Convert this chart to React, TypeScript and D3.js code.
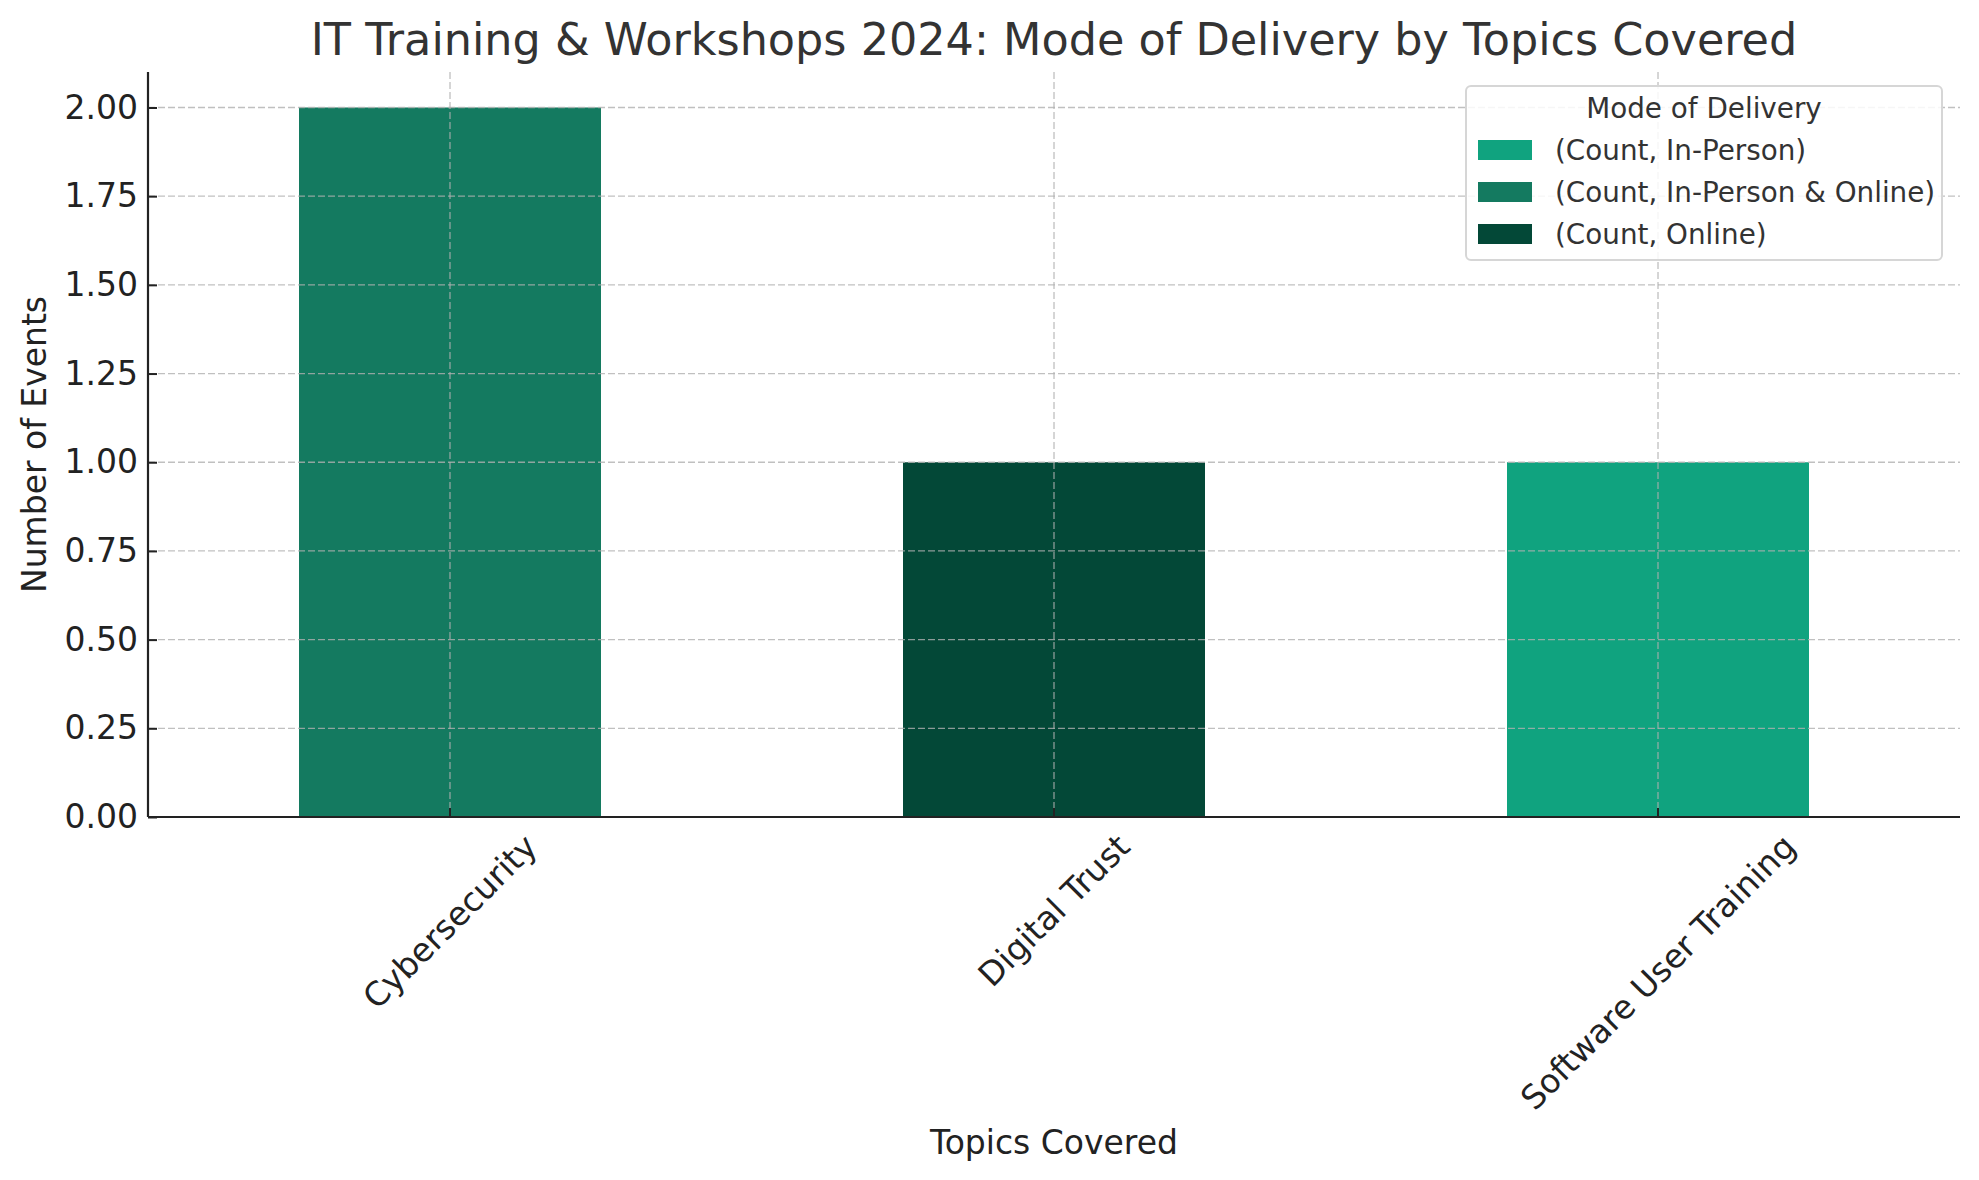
import React, { useEffect, useRef } from "react";
import * as d3 from "d3";

const topics = ["Cybersecurity", "Digital Trust", "Software User Training"];
const modes = ["(Count, In-Person)", "(Count, In-Person & Online)", "(Count, Online)"];
const inPerson = [0, 0, 1];
const inPersonOnline = [2, 0, 0];
const online = [0, 1, 0];
const yTicks = [0, 0.25, 0.5, 0.75, 1, 1.25, 1.5, 1.75, 2];
const colors = ["#10A37F", "#147A60", "#034837"];

const W = 1979;
const H = 1180;
const margin = { top: 72, right: 19, bottom: 363, left: 148 };
const FONT = "DejaVu Sans, sans-serif";

const App: React.FC = () => {
  const svgRef = useRef<SVGSVGElement | null>(null);

  useEffect(() => {
    document.body.style.margin = "0";
    if (!svgRef.current) return;
    const svg = d3.select(svgRef.current);
    svg.selectAll("*").remove();

    const rows = topics.map((t, i) => ({
      topic: t,
      [modes[0]]: inPerson[i],
      [modes[1]]: inPersonOnline[i],
      [modes[2]]: online[i],
    }));
    const series = d3.stack<any>().keys(modes)(rows);

    const innerW = W - margin.left - margin.right;
    const innerH = H - margin.top - margin.bottom;

    const x = d3.scaleBand().domain(topics).range([0, innerW]).paddingInner(0.5).paddingOuter(0.25);
    const y = d3.scaleLinear().domain([0, 2.1]).range([innerH, 0]);
    const color = d3.scaleOrdinal<string>().domain(modes).range(colors);

    const g = svg.append("g").attr("transform", `translate(${margin.left},${margin.top})`);

    // bars
    g.selectAll(".layer")
      .data(series)
      .enter()
      .append("g")
      .attr("fill", (d) => color(d.key))
      .selectAll("rect")
      .data((d) => d)
      .enter()
      .append("rect")
      .attr("x", (d: any) => x(d.data.topic) ?? 0)
      .attr("width", x.bandwidth())
      .attr("y", (d) => y(d[1]))
      .attr("height", (d) => y(d[0]) - y(d[1]));

    // grid (drawn above bars)
    const grid = g.append("g").attr("stroke", "#b0b0b0").attr("stroke-opacity", 0.8).attr("stroke-width", 1.3).attr("stroke-dasharray", "7,3");
    grid.selectAll(".hg")
      .data(yTicks)
      .enter()
      .append("line")
      .attr("x1", 0)
      .attr("x2", innerW)
      .attr("y1", (d) => y(d))
      .attr("y2", (d) => y(d));
    grid.selectAll(".vg")
      .data(topics)
      .enter()
      .append("line")
      .attr("x1", (d) => (x(d) ?? 0) + x.bandwidth() / 2)
      .attr("x2", (d) => (x(d) ?? 0) + x.bandwidth() / 2)
      .attr("y1", 0)
      .attr("y2", innerH);

    // y axis
    const yAxis = g.append("g").call(
      d3.axisLeft(y).tickValues(yTicks).tickFormat(d3.format(".2f")).tickSizeInner(-9).tickSizeOuter(0).tickPadding(10)
    );
    yAxis.select(".domain").attr("stroke", "#222").attr("stroke-width", 2.2).attr("d", `M0,${innerH}V0`);
    yAxis.selectAll(".tick line").attr("stroke", "#222").attr("stroke-width", 2);
    yAxis.selectAll(".tick text").attr("font-family", FONT).attr("font-size", 33).attr("fill", "#222");

    // x axis
    const xAxis = g.append("g").attr("transform", `translate(0,${innerH})`).call(
      d3.axisBottom(x).tickSizeInner(-9).tickSizeOuter(0).tickPadding(0)
    );
    xAxis.select(".domain").attr("stroke", "#222").attr("stroke-width", 2.2).attr("d", `M0,0H${innerW}`);
    xAxis.selectAll(".tick line").attr("stroke", "#222").attr("stroke-width", 2);
    xAxis.selectAll<SVGTextElement, string>(".tick text")
      .attr("font-family", FONT)
      .attr("font-size", 33)
      .attr("fill", "#222")
      .attr("dy", null)
      .attr("text-anchor", "middle")
      .attr("dominant-baseline", "central")
      .each(function () {
        const w = this.getComputedTextLength();
        const h = 33;
        const bh = (w + h) * Math.SQRT1_2;
        d3.select(this).attr("y", null).attr("transform", `translate(0,${12 + bh / 2}) rotate(-45)`);
      });

    // axis labels
    svg.append("text")
      .attr("x", margin.left + innerW / 2)
      .attr("y", 1142)
      .attr("text-anchor", "middle")
      .attr("dominant-baseline", "central")
      .attr("font-family", FONT)
      .attr("font-size", 33)
      .attr("fill", "#222")
      .text("Topics Covered");
    svg.append("text")
      .attr("transform", `translate(34,${margin.top + innerH / 2}) rotate(-90)`)
      .attr("text-anchor", "middle")
      .attr("dominant-baseline", "central")
      .attr("font-family", FONT)
      .attr("font-size", 33)
      .attr("fill", "#222")
      .text("Number of Events");

    // title
    svg.append("text")
      .attr("x", margin.left + innerW / 2)
      .attr("y", 39)
      .attr("text-anchor", "middle")
      .attr("dominant-baseline", "central")
      .attr("font-family", FONT)
      .attr("font-size", 44.5)
      .attr("fill", "#333")
      .text("IT Training & Workshops 2024: Mode of Delivery by Topics Covered");

    // legend
    const lg = svg.append("g").attr("transform", "translate(1466,86)");
    lg.append("rect")
      .attr("width", 476)
      .attr("height", 174)
      .attr("rx", 5)
      .attr("fill", "#fff")
      .attr("fill-opacity", 0.85)
      .attr("stroke", "#d6d6d6")
      .attr("stroke-width", 2);
    lg.append("text")
      .attr("x", 238)
      .attr("y", 22)
      .attr("text-anchor", "middle")
      .attr("dominant-baseline", "central")
      .attr("font-family", FONT)
      .attr("font-size", 27.8)
      .attr("fill", "#333")
      .text("Mode of Delivery");
    const item = lg.selectAll(".item")
      .data(modes)
      .enter()
      .append("g")
      .attr("transform", (d, i) => `translate(0,${64 + i * 42})`);
    item.append("rect")
      .attr("x", 12)
      .attr("y", -10)
      .attr("width", 54)
      .attr("height", 20)
      .attr("fill", (d) => color(d));
    item.append("text")
      .attr("x", 89)
      .attr("y", 0)
      .attr("dominant-baseline", "central")
      .attr("font-family", FONT)
      .attr("font-size", 27.8)
      .attr("fill", "#333")
      .text((d) => d);
  }, []);

  return <svg ref={svgRef} width={W} height={H} style={{ display: "block", background: "#fff" }} />;
};

export default App;
